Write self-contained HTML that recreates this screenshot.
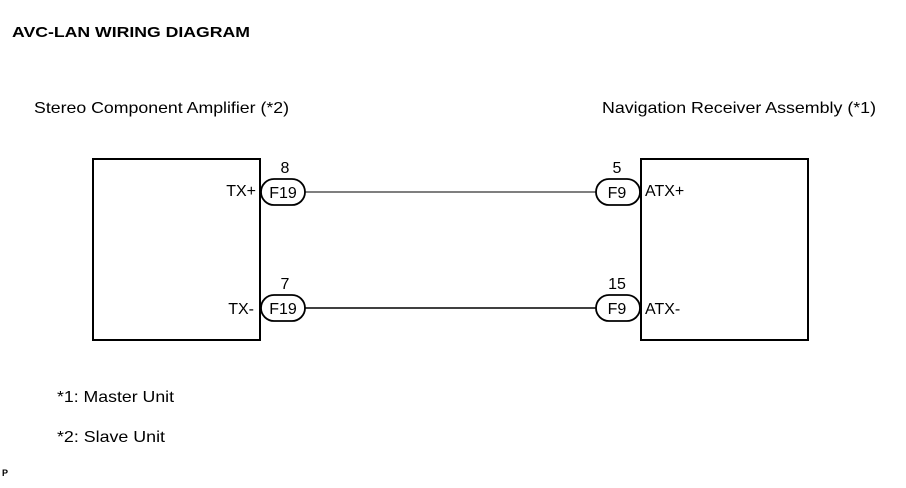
<!DOCTYPE html>
<html><head><style>
body{margin:0;width:906px;height:483px;background:#fff;overflow:hidden}
svg text{font-family:"Liberation Sans",sans-serif;fill:#000}
</style></head><body>
<svg width="906" height="483" viewBox="0 0 906 483">
<text x="12" y="37" font-size="15" font-weight="bold" textLength="238" lengthAdjust="spacingAndGlyphs">AVC-LAN WIRING DIAGRAM</text>
<text x="34" y="113" font-size="16" textLength="255" lengthAdjust="spacingAndGlyphs">Stereo Component Amplifier (*2)</text>
<text x="602" y="113" font-size="16" textLength="274" lengthAdjust="spacingAndGlyphs">Navigation Receiver Assembly (*1)</text>
<rect x="93" y="159" width="167" height="181" fill="none" stroke="#000" stroke-width="2"/>
<rect x="641" y="159" width="167" height="181" fill="none" stroke="#000" stroke-width="2"/>
<line x1="305" y1="192" x2="596" y2="192" stroke="#555" stroke-width="1.5"/>
<line x1="305" y1="308" x2="596" y2="308" stroke="#000" stroke-width="1.5"/>
<g fill="#fff" stroke="#000" stroke-width="1.8">
<rect x="261" y="179" width="44" height="26" rx="13"/>
<rect x="261" y="295" width="44" height="26" rx="13"/>
<rect x="596" y="179" width="44" height="26" rx="13"/>
<rect x="596" y="295" width="44" height="26" rx="13"/>
</g>
<g font-size="16">
<text x="283" y="198" text-anchor="middle">F19</text><text x="283" y="314" text-anchor="middle">F19</text>
<text x="617" y="198" text-anchor="middle">F9</text><text x="617" y="314" text-anchor="middle">F9</text>
<text x="285" y="173" text-anchor="middle">8</text><text x="285" y="289" text-anchor="middle">7</text>
<text x="617" y="173" text-anchor="middle">5</text><text x="617" y="289" text-anchor="middle">15</text>
<text x="256" y="196" text-anchor="end">TX+</text><text x="254" y="314" text-anchor="end">TX-</text>
<text x="645" y="196">ATX+</text><text x="645" y="314">ATX-</text>
<text x="57" y="402" textLength="117" lengthAdjust="spacingAndGlyphs">*1: Master Unit</text>
<text x="57" y="442" textLength="108" lengthAdjust="spacingAndGlyphs">*2: Slave Unit</text>
</g>
<text x="2" y="476" font-size="9" font-weight="bold">P</text>
</svg>
</body></html>
